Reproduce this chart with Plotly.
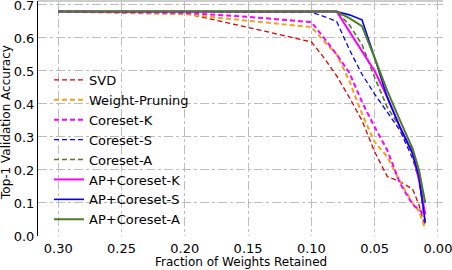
import plotly.graph_objects as go

# Fraction of weights retained (x) and top-1 accuracy per method
fraction = [0.30, 0.20, 0.15, 0.10, 0.09, 0.08, 0.07, 0.06, 0.05, 0.04, 0.03, 0.02, 0.015, 0.01]

svd            = [0.680, 0.675, 0.632, 0.588, 0.540, 0.485, 0.420, 0.350, 0.255, 0.180, 0.165, 0.142, 0.095, 0.027]
weight_pruning = [0.680, 0.672, 0.652, 0.633, 0.590, 0.550, 0.470, 0.370, 0.285, 0.240, 0.165, 0.100, 0.075, 0.020]
coreset_k      = [0.680, 0.676, 0.664, 0.648, 0.600, 0.550, 0.495, 0.406, 0.330, 0.260, 0.160, 0.095, 0.080, 0.065]
coreset_s      = [0.680, 0.680, 0.680, 0.678, 0.665, 0.650, 0.565, 0.490, 0.430, 0.375, 0.320, 0.235, 0.170, 0.040]
coreset_a      = [0.680, 0.680, 0.680, 0.680, 0.680, 0.680, 0.640, 0.580, 0.480, 0.390, 0.330, 0.255, 0.180, 0.100]
ap_coreset_k   = [0.680, 0.680, 0.680, 0.680, 0.680, 0.680, 0.620, 0.560, 0.500, 0.420, 0.330, 0.250, 0.170, 0.065]
ap_coreset_s   = [0.680, 0.680, 0.680, 0.680, 0.680, 0.680, 0.670, 0.655, 0.540, 0.420, 0.330, 0.250, 0.180, 0.040]
ap_coreset_a   = [0.680, 0.680, 0.680, 0.680, 0.680, 0.680, 0.660, 0.636, 0.540, 0.440, 0.350, 0.265, 0.200, 0.100]

x_ticks = [0.30, 0.25, 0.20, 0.15, 0.10, 0.05, 0.00]
y_ticks = [0.0, 0.1, 0.2, 0.3, 0.4, 0.5, 0.6, 0.7]

series = [
    ("SVD", svd, "#e00000", "5px,3px", 1.3),
    ("Weight-Pruning", weight_pruning, "#f5a020", "5px,3px", 2.0),
    ("Coreset-K", coreset_k, "#ff00ff", "5px,3px", 2.0),
    ("Coreset-S", coreset_s, "#0000ff", "5px,3px", 1.3),
    ("Coreset-A", coreset_a, "#4a7f22", "5px,3px", 1.6),
    ("AP+Coreset-K", ap_coreset_k, "#ff00ff", "solid", 2.0),
    ("AP+Coreset-S", ap_coreset_s, "#0000ff", "solid", 1.6),
    ("AP+Coreset-A", ap_coreset_a, "#4a7f22", "solid", 2.0),
]

fig = go.Figure()
for name, vals, color, dash, w in series:
    fig.add_trace(go.Scatter(x=fraction, y=vals, mode="lines", name=name,
                             line=dict(color=color, dash=dash, width=w)))

font = "DejaVu Sans, Verdana, sans-serif"
fig.update_layout(
    width=452, height=270,
    margin=dict(l=38, r=9, t=1, b=34, autoexpand=False),
    paper_bgcolor="white", plot_bgcolor="white",
    font=dict(family=font, size=13, color="black"),
    showlegend=True,
    legend=dict(x=(49 - 38) / 405, y=(236 - 65) / 235, xanchor="left", yanchor="top",
                bgcolor="rgba(0,0,0,0)", font=dict(size=13, family=font),
                itemwidth=30, tracegroupgap=0),
    xaxis=dict(range=[0.316, -0.004], tickvals=x_ticks, tickformat=".2f",
               showgrid=True, gridcolor="#bdbdbd", griddash="dashdot", gridwidth=1,
               zeroline=False, showline=False, ticks="", tickfont=dict(size=13),
               automargin=False, ticklabeloverflow="allow", ticklabelstandoff=3),
    yaxis=dict(range=[0, 0.712], tickvals=y_ticks, tickformat=".1f",
               showgrid=True, gridcolor="#bdbdbd", griddash="dashdot", gridwidth=1,
               zeroline=False, showline=True, linecolor="black", linewidth=1,
               ticks="", tickfont=dict(size=13), automargin=False,
               ticklabeloverflow="allow"),
    shapes=[dict(type="line", xref="paper", yref="paper", x0=0, x1=1, y0=1, y1=1,
                 line=dict(color="#bdbdbd", width=1.5))],
    annotations=[
        dict(text="Fraction of Weights Retained", xref="paper", yref="paper",
             x=0.5, y=(236 - 262) / 235, xanchor="center", yanchor="middle",
             showarrow=False, font=dict(size=12, family=font)),
        dict(text="Top-1 Validation Accuracy", xref="paper", yref="paper",
             x=(6 - 38) / 405, y=(236 - 123) / 235, xanchor="center", yanchor="middle",
             textangle=-90, showarrow=False, font=dict(size=12, family=font)),
    ],
)

fig.write_html("out.html", config={"displayModeBar": False},
               post_script="document.body.style.margin='0';document.body.style.padding='0';")
